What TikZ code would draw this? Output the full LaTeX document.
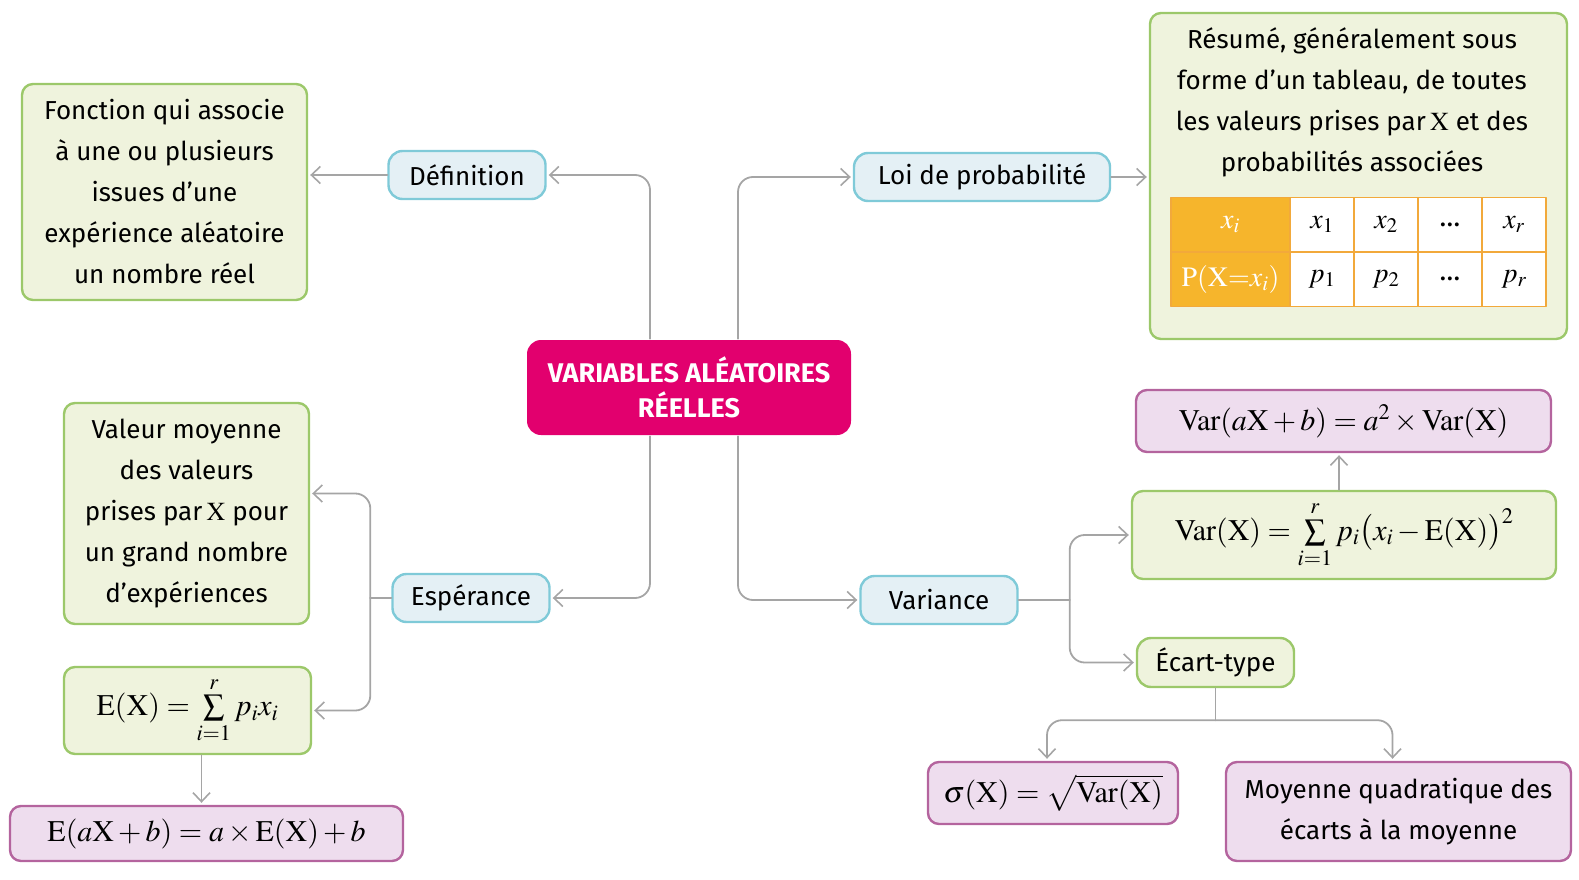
\documentclass[tikz,border=0pt]{standalone}
\usepackage{mathptmx}
\usepackage[no-math]{fontspec}
\setmainfont{Fira Sans}
\usetikzlibrary{arrows.meta,calc}
\definecolor{leaffill}{HTML}{EFF3DD}
\definecolor{leafline}{HTML}{9CC86A}
\definecolor{keyfill}{HTML}{E4F0F5}
\definecolor{keyline}{HTML}{7FCAD8}
\definecolor{formfill}{HTML}{EEDDEE}
\definecolor{formline}{HTML}{B4649E}
\definecolor{rootfill}{HTML}{E2006E}
\definecolor{tabhead}{HTML}{F6B52C}
\definecolor{tabline}{HTML}{F2A93B}
\definecolor{linkgray}{HTML}{A5A5A5}
\tikzset{
  box/.style={rectangle, rounded corners=11pt, line width=2.4pt, inner sep=0pt, align=center,
    font=\fontsize{26}{41}\selectfont},
  leaf/.style={box, draw=leafline, fill=leaffill},
  key/.style={box, rounded corners=14pt, draw=keyline, fill=keyfill, minimum width=157pt, minimum height=48pt},
  form/.style={box, draw=formline, fill=formfill},
  root/.style={box, rounded corners=14pt, draw=none, fill=rootfill, text=white,
    font=\fontsize{27}{35}\selectfont\bfseries},
  cell/.style={rectangle, draw=tabline, line width=1.5pt, fill=white, inner sep=0pt,
    minimum width=64pt, minimum height=54.5pt, font=\fontsize{28}{30}\selectfont},
  head/.style={cell, fill=tabhead, text=white, minimum width=119pt},
  link/.style={draw=linkgray, line width=1.8pt, rounded corners=15pt},
  go/.style={link, -{Straight Barb[length=9pt,width=17pt,line width=1.6pt]}, shorten >=2pt},
  mth/.style={font=\fontsize{30}{34}\selectfont}
}
\begin{document}
\begin{tikzpicture}[x=1pt, y=-1pt, line cap=round, line join=round]
\useasboundingbox (0,0) rectangle (1579,880);
% centre
\node[root, minimum width=324pt, minimum height=95pt] (root) at (689,387.5) {VARIABLES ALÉATOIRES\\RÉELLES};
% definition
\node[key] (def) at (467,175) {Définition};
\node[leaf, minimum width=285pt, minimum height=216pt] (fonc) at (164.5,192)
  {Fonction qui associe\\à une ou plusieurs\\issues d’une\\expérience aléatoire\\un nombre réel};
% loi
\node[key, minimum width=256pt] (loi) at (982,177) {Loi de probabilité};
\node[leaf, minimum width=417pt, minimum height=326pt] (resume) at (1358.5,176) {};
\node[box] (resumetxt) at (1352,102)
  {Résumé, généralement sous\\forme d’un tableau, de toutes\\les valeurs prises par\,$\mathrm{X}$ et des\\probabilités associées};
\node[head] (xi) at (1230.5,224.5) {$x_i$};
\node[head] (pxi) at (1230.5,279) {$\mathrm{P}(\mathrm{X}{=}x_i)$};
\foreach \xv/\pv [count=\k] in {$x_1$/$p_1$, $x_2$/$p_2$, \ldots/\ldots, $x_r$/$p_r$}{
  \node[cell] (x\k) at (1258+64*\k,224.5) {\xv};
  \node[cell] (p\k) at (1258+64*\k,279) {\pv};
}
% esperance
\node[key] (esp) at (471,598) {Espérance};
\node[leaf, minimum width=245pt, minimum height=221pt] (valeur) at (186.5,513.5)
  {Valeur moyenne\\des valeurs\\prises par\,$\mathrm{X}$ pour\\un grand nombre\\d’expériences};
\node[leaf, mth, minimum width=247pt, minimum height=87pt] (ex) at (187.5,710.5)
  {$\mathrm{E}(\mathrm{X})=\sum\limits_{i=1}^{r}p_ix_i$};
\node[form, mth, minimum width=393pt, minimum height=55pt] (eaxb) at (206.5,833.5)
  {$\mathrm{E}(a\mathrm{X}+b)=a\times\mathrm{E}(\mathrm{X})+b$};
% variance
\node[key] (var) at (939,600) {Variance};
\node[leaf, mth, minimum width=424pt, minimum height=88pt] (varx) at (1344,535)
  {$\mathrm{Var}(\mathrm{X})=\sum\limits_{i=1}^{r}p_i\bigl(x_i-\mathrm{E}(\mathrm{X})\bigr)^2$};
\node[form, mth, minimum width=415pt, minimum height=62pt] (varaxb) at (1343.5,421)
  {$\mathrm{Var}(a\mathrm{X}+b)=a^2\times\mathrm{Var}(\mathrm{X})$};
\node[leaf, rounded corners=14pt, minimum width=157pt, minimum height=49pt] (ecart) at (1215.5,662.5) {Écart-type};
\node[form, mth, minimum width=250pt, minimum height=62pt] (sigma) at (1053,793)
  {$\sigma(\mathrm{X})=\sqrt{\mathrm{Var}(\mathrm{X})}$};
\node[form, minimum width=345pt, minimum height=99pt] (moyq) at (1398.5,811.5)
  {Moyenne quadratique des\\écarts à la moyenne};
% liens
\draw[go] ([xshift=-39pt]root.north) |- (def.east);
\draw[go] (def.west) -- (def.west -| fonc.east);
\draw[go] ([xshift=49pt]root.north) |- (loi.west);
\draw[go] (loi.east) -- (loi.east -| resume.west);
\draw[go] ([xshift=-39pt]root.south) |- (esp.east);
\draw[link] (esp.west) -- ++(-21,0) coordinate (espsplit);
\draw[go] (espsplit) |- ([yshift=20pt]valeur.east);
\draw[go] (espsplit) |- (ex.east);
\draw[go] ([xshift=14pt]ex.south) -- ([xshift=14pt]ex.south |- eaxb.north);
\draw[go] ([xshift=49pt]root.south) |- (var.west);
\draw[link] (var.east) -- ++(51,0) coordinate (varsplit);
\draw[go] (varsplit) |- (varx.west);
\draw[go] (varsplit) |- (ecart.west);
\draw[go] ([xshift=-5pt]varx.north) -- ([xshift=-5pt]varx.north |- varaxb.south);
\draw[link] (ecart.south) -- ++(0,32) coordinate (ecsplit);
\draw[go] (ecsplit) -| ([xshift=-6pt]sigma.north);
\draw[go] (ecsplit) -| ([xshift=-6pt]moyq.north);
\end{tikzpicture}
\end{document}
